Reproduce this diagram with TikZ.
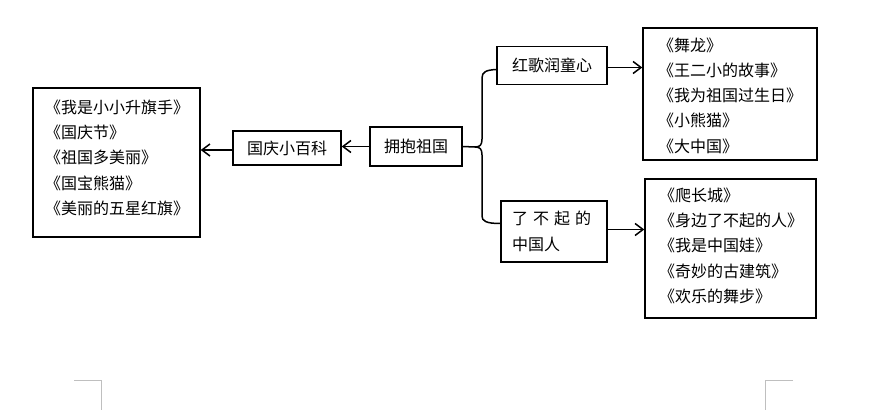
\documentclass[tikz,border=0pt]{standalone}
\usepackage{fontspec}
\setmainfont{Noto Sans CJK SC}
\usetikzlibrary{arrows.meta}
\begin{document}
\begin{tikzpicture}[x=1pt,y=-1pt,
  box/.style={draw,line width=1.4pt,inner sep=0pt},
  txt/.style={anchor=west,inner sep=0pt,font=\fontsize{16}{18}\selectfont},
  ctxt/.style={anchor=center,inner sep=0pt,font=\fontsize{16}{18}\selectfont},
  ln/.style={line width=1.5pt},
  arr/.style={line width=1.5pt,-{Straight Barb[length=8pt,width=12pt,line width=1.5pt]}},
  crn/.style={line width=1pt,draw=black!25}]
\useasboundingbox (0,0) rectangle (870,410);
% boxes
\node[box,minimum width=167pt,minimum height=149pt] (L) at (116.5,162.5) {};
\node[box,minimum width=108pt,minimum height=34pt] (G) at (287,148) {};
\node[ctxt] (Gt) at (G.center) {国庆小百科};
\node[box,minimum width=92pt,minimum height=39pt] (P) at (416,146.5) {};
\node[ctxt] (Pt) at (P.center) {拥抱祖国};
\node[box,minimum width=110pt,minimum height=38pt] (R) at (552,65.5) {};
\node[ctxt] (Rt) at (R.center) {红歌润童心};
\node[box,minimum width=106pt,minimum height=61pt] (K) at (554,231.5) {};
\node[txt] (Kt1) at (512,218) {了\hspace{5pt}不\hspace{5pt}起\hspace{5pt}的};
\node[txt] (Kt2) at (512,244) {中国人};
\node[box,minimum width=174pt,minimum height=132pt] (TR) at (730,94) {};
\node[box,minimum width=171pt,minimum height=139pt] (BR) at (730.5,248.5) {};
% list texts
\node[txt] (L1) at (45,107) {《我是小小升旗手》};
\node[txt] (L2) at (45,132.3) {《国庆节》};
\node[txt] (L3) at (45,157.6) {《祖国多美丽》};
\node[txt] (L4) at (45,182.9) {《国宝熊猫》};
\node[txt] (L5) at (45,208.2) {《美丽的五星红旗》};
\node[txt] (T1) at (658,45) {《舞龙》};
\node[txt] (T2) at (658,70.3) {《王二小的故事》};
\node[txt] (T3) at (658,95.6) {《我为祖国过生日》};
\node[txt] (T4) at (658,120.9) {《小熊猫》};
\node[txt] (T5) at (658,146.2) {《大中国》};
\node[txt] (B1) at (659,195.5) {《爬长城》};
\node[txt] (B2) at (659,220.7) {《身边了不起的人》};
\node[txt] (B3) at (659,245.9) {《我是中国娃》};
\node[txt] (B4) at (659,271.1) {《奇妙的古建筑》};
\node[txt] (B5) at (659,296.3) {《欢乐的舞步》};
% connectors
\draw[arr] (P.west) -- (P.west -| G.east);
\draw[arr] ([yshift=-2pt]G.west) -- ([yshift=-2pt]G.west -| L.east);
\draw[arr] ([yshift=-2pt]R.east) -- ([yshift=-2pt]R.east -| TR.west);
\draw[arr] ([yshift=2pt]K.east) -- ([yshift=2pt]K.east -| BR.west);
\coordinate (bm) at (475,147);
\draw[ln] (P.east) -- (bm);
\draw[ln] (bm) .. controls (480,147) and (482,145) .. (482,139) -- (482,78)
  .. controls (482,72) and (486,70) .. ([yshift=-4pt]R.west);
\draw[ln] (bm) .. controls (480,147) and (482,149) .. (482,155) -- (482,216)
  .. controls (482,221) and (486,223.5) .. ([yshift=8pt]K.west);
% page corner marks
\coordinate (c1) at (101,380);
\coordinate (c2) at (765,380);
\draw[crn] (74,380) -- (c1) -- (101,410);
\draw[crn] (793,380) -- (c2) -- (765,410);
\end{tikzpicture}
\end{document}
